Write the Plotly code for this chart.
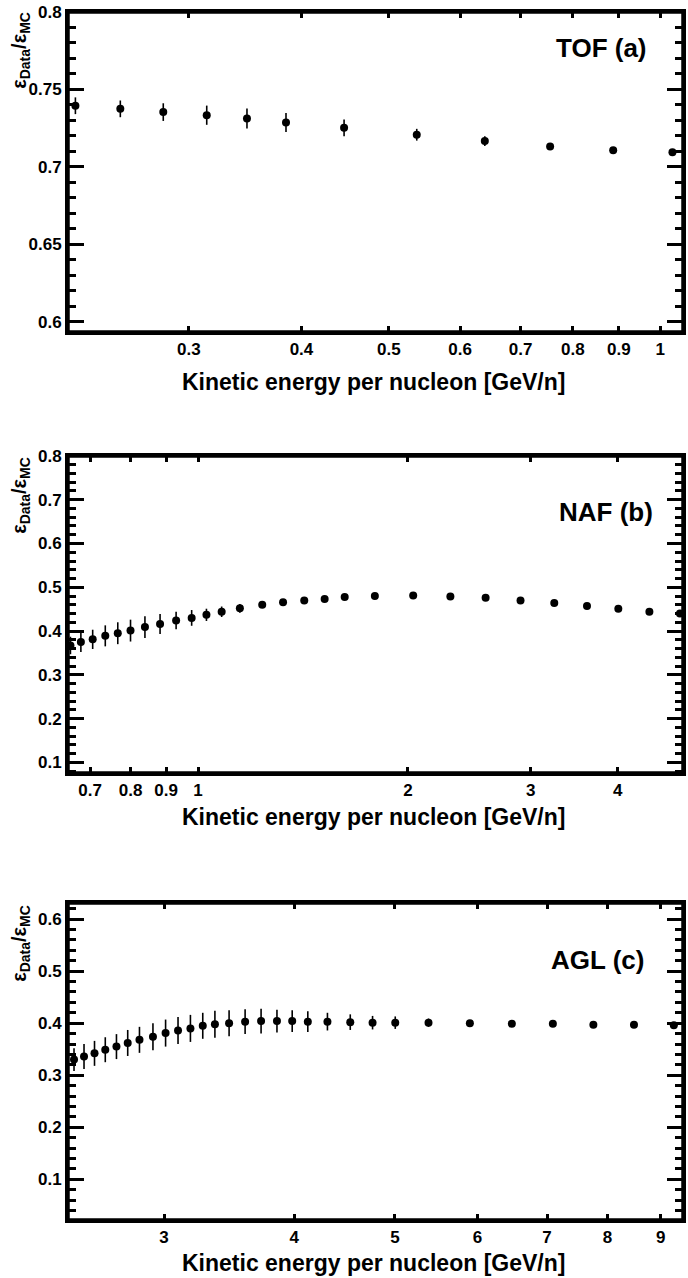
import plotly.graph_objects as go

# ---------------- data ----------------
tof_E = [0.2245, 0.2518, 0.281, 0.314, 0.348, 0.3845, 0.446, 0.537, 0.639, 0.755, 0.887, 1.032]
tof_R = [0.7395, 0.7375, 0.7354, 0.7334, 0.7313, 0.7287, 0.7253, 0.7208, 0.7167, 0.7132, 0.7108, 0.7095]
tof_err = [0.0054, 0.0054, 0.0057, 0.0062, 0.0064, 0.0062, 0.0054, 0.0038, 0.0032, 0.0022, 0.0016, 0.0012]

naf_E = [0.656, 0.679, 0.706, 0.736, 0.767, 0.800, 0.839, 0.882, 0.930, 0.979, 1.028, 1.081, 1.148, 1.236,
         1.324, 1.420, 1.519, 1.623, 1.793, 2.035, 2.301, 2.585, 2.901, 3.243, 3.613, 4.007, 4.440, 4.911]
naf_R = [0.367, 0.375, 0.381, 0.389, 0.395, 0.401, 0.409, 0.416, 0.424, 0.430, 0.437, 0.444, 0.452, 0.460,
         0.466, 0.470, 0.473, 0.478, 0.480, 0.481, 0.479, 0.476, 0.470, 0.464, 0.457, 0.451, 0.444, 0.440]
naf_err = [0.020, 0.023, 0.022, 0.024, 0.025, 0.025, 0.025, 0.023, 0.020, 0.018, 0.014, 0.012, 0.010, 0.007,
           0.005, 0.004, 0.003, 0.003, 0.003, 0.003, 0.002, 0.002, 0.002, 0.002, 0.002, 0.002, 0.002, 0.002]

agl_E = [2.458, 2.513, 2.572, 2.634, 2.700, 2.768, 2.841, 2.927, 3.010, 3.094, 3.180, 3.268, 3.357, 3.464,
         3.589, 3.718, 3.851, 3.983, 4.123, 4.306, 4.529, 4.758, 5.003, 5.385, 5.901, 6.475, 7.090, 7.755,
         8.484, 9.266]
agl_R = [0.330, 0.336, 0.342, 0.349, 0.355, 0.362, 0.368, 0.374, 0.381, 0.386, 0.390, 0.395, 0.398, 0.400,
         0.403, 0.404, 0.404, 0.404, 0.403, 0.403, 0.402, 0.401, 0.401, 0.401, 0.400, 0.399, 0.399, 0.397,
         0.397, 0.396]
agl_err = [0.022, 0.024, 0.024, 0.024, 0.024, 0.025, 0.025, 0.026, 0.026, 0.026, 0.026, 0.025, 0.026, 0.025,
           0.024, 0.024, 0.022, 0.021, 0.020, 0.017, 0.015, 0.013, 0.012, 0.008, 0.005, 0.003, 0.002, 0.002,
           0.002, 0.002]

tof_xticks = [0.3, 0.4, 0.5, 0.6, 0.7, 0.8, 0.9, 1]
naf_xticks = [0.7, 0.8, 0.9, 1, 2, 3, 4]
agl_xticks = [3, 4, 5, 6, 7, 8, 9]

tof_yticks = [0.6, 0.65, 0.7, 0.75, 0.8]
naf_yticks = [0.1, 0.2, 0.3, 0.4, 0.5, 0.6, 0.7, 0.8]
agl_yticks = [0.1, 0.2, 0.3, 0.4, 0.5, 0.6]

panel_labels = ["TOF (a)", "NAF (b)", "AGL (c)"]
xtitle = "Kinetic energy per nucleon [GeV/n]"
ytitle = "<b>ε<sub>Data</sub>/ε<sub>MC</sub></b>"

FONT = "Liberation Sans, Arial, Helvetica, sans-serif"

fig = go.Figure()

panels = [
    (tof_E, tof_R, tof_err, "x", "y"),
    (naf_E, naf_R, naf_err, "x2", "y2"),
    (agl_E, agl_R, agl_err, "x3", "y3"),
]
for E, R, err, xa, ya in panels:
    fig.add_trace(go.Scatter(
        x=E, y=R, mode="markers", xaxis=xa, yaxis=ya,
        marker=dict(color="black", size=8),
        error_y=dict(type="data", array=err, color="black", thickness=1.6, width=0),
        showlegend=False, cliponaxis=False,
    ))

def fmt(v):
    return "<b>" + ("%g" % v) + "</b>"

def xax(anchor, rng, ticks):
    return dict(
        type="log", range=rng, anchor=anchor,
        tickmode="array", tickvals=ticks, ticktext=[fmt(t) for t in ticks],
        ticks="inside", ticklen=6, tickwidth=2.5, tickcolor="black",
        showline=True, linewidth=3, linecolor="black", mirror="allticks",
        showgrid=False, zeroline=False,
        tickfont=dict(family=FONT, size=17, color="black", weight="bold"),
    )

def yax(anchor, dom, rng, ticks, minor_dtick):
    return dict(
        domain=dom, range=rng, anchor=anchor,
        tickmode="array", tickvals=ticks, ticktext=[fmt(t) for t in ticks],
        ticks="inside", ticklen=16, tickwidth=2.5, tickcolor="black",
        minor=dict(ticks="inside", tickmode="linear", tick0=0, dtick=minor_dtick,
                   ticklen=8, tickwidth=2.5, tickcolor="black", showgrid=False),
        showline=True, linewidth=3, linecolor="black", mirror="allticks",
        showgrid=False, zeroline=False,
        tickfont=dict(family=FONT, size=17, color="black", weight="bold"),
    )

domains = [[0.7351, 1.0], [0.3700, 0.6325], [0.0, 0.2624]]

fig.update_layout(
    width=688, height=1278,
    margin=dict(l=68, r=2, t=12, b=58),
    paper_bgcolor="white", plot_bgcolor="white",
    xaxis=xax("y", [-0.657, 0.0254], tof_xticks),
    xaxis2=xax("y2", [-0.1866, 0.6956], naf_xticks),
    xaxis3=xax("y3", [0.3848, 0.9757], agl_xticks),
    yaxis=yax("x", domains[0], [0.5935, 0.80], tof_yticks, 0.01),
    yaxis2=yax("x2", domains[1], [0.0756, 0.80], naf_yticks, 0.02),
    yaxis3=yax("x3", domains[2], [0.0217, 0.631], agl_yticks, 0.02),
)

# Thick ROOT-style frames around each pad (paper-referenced, not clipped)
for d0, d1 in domains:
    fig.add_shape(type="rect", xref="paper", yref="paper",
                  x0=0, x1=1, y0=d0, y1=d1, line=dict(color="black", width=3.5),
                  fillcolor="rgba(0,0,0,0)", layer="above")

# Panel labels
label_pos = [(0.945, 0.9702), (0.9547, 0.5863), (0.940, 0.2152)]
for txt, (px, py) in zip(panel_labels, label_pos):
    fig.add_annotation(text="<b>" + txt + "</b>", xref="paper", yref="paper", x=px, y=py,
                       xanchor="right", yanchor="middle", showarrow=False,
                       font=dict(family=FONT, size=26, color="black"))

# X titles
for py in [0.6937, 0.3336, -0.0356]:
    fig.add_annotation(text="<b>" + xtitle + "</b>", xref="paper", yref="paper", x=0.497, y=py,
                       xanchor="center", yanchor="middle", showarrow=False,
                       font=dict(family=FONT, size=23, color="black"))

# Y titles (rotated, top-aligned)
for py in [1.0017, 0.6333, 0.2624]:
    fig.add_annotation(text=ytitle, xref="paper", yref="paper", x=-0.0775, y=py,
                       xanchor="center", yanchor="top", textangle=-90, showarrow=False,
                       font=dict(family=FONT, size=20, color="black"))

fig.write_html("out.html")
